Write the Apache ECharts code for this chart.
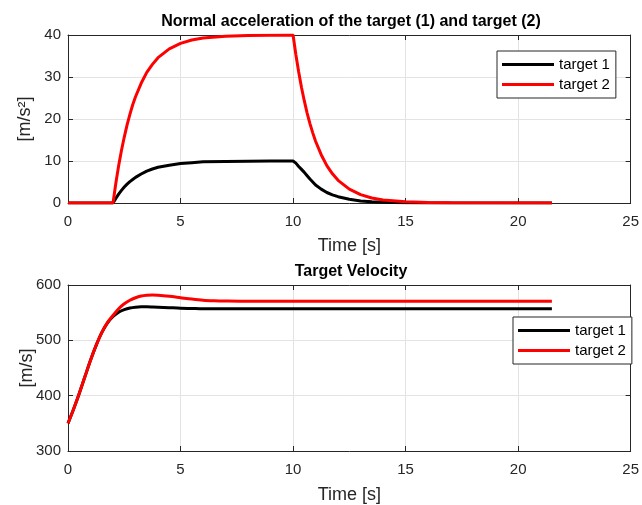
<!DOCTYPE html>
<html>
<head>
<meta charset="utf-8">
<title>Target acceleration and velocity</title>
<script src="https://cdn.jsdelivr.net/npm/echarts@6/dist/echarts.min.js"></script>
<style>
  html, body { margin: 0; padding: 0; background: #fff; }
  #chart { width: 642px; height: 505px; }
</style>
</head>
<body>
<div id="chart"></div>
<script>
// values
const seriesNames = ['target 1', 'target 2'];
const xTicks = [0, 5, 10, 15, 20, 25];

// normal acceleration [m/s^2]
const accTime = [0, 2, 2.125, 2.25, 2.375, 2.5, 2.625, 2.75, 2.875, 3, 3.25, 3.5, 3.75, 4, 4.5, 5, 5.5, 6, 7, 8, 9, 10,
  10.125, 10.25, 10.375, 10.5, 10.625, 10.75, 10.875, 11, 11.25, 11.5, 11.75, 12, 12.5, 13, 13.5, 14, 15, 16, 17, 21.5];
const accTarget1 = [0, 0, 1.1, 2.1, 3.0, 3.8, 4.5, 5.1, 5.6, 6.1, 6.9, 7.6, 8.1, 8.5, 9.0, 9.4, 9.6, 9.8, 9.9, 9.97, 10, 10,
  9.5, 8.7, 8.0, 7.3, 6.5, 5.7, 5.0, 4.3, 3.3, 2.5, 1.95, 1.5, 0.9, 0.5, 0.3, 0.15, 0.05, 0.02, 0, 0];
const accTarget2 = [0, 0, 4.7, 8.85, 12.5, 15.7, 18.6, 21.1, 23.4, 25.3, 28.5, 31.1, 33.0, 34.6, 36.7, 38.0, 38.8, 39.3, 39.7, 39.9, 39.96, 40,
  35.3, 31.2, 27.5, 24.3, 21.4, 18.9, 16.7, 14.7, 11.5, 8.9, 6.95, 5.4, 3.3, 2.0, 1.2, 0.7, 0.27, 0.1, 0.04, 0];

// target velocity [m/s]
const velTime = [0, 0.25, 0.5, 0.75, 1, 1.25, 1.5, 1.75, 2, 2.25, 2.5, 2.75, 3, 3.25, 3.5, 3.75, 4,
  4.5, 5, 5.5, 6, 6.5, 7, 8, 10, 15, 21.5];
const velTarget1 = [350, 376, 404, 434, 464, 491, 514, 531, 543, 551, 555.5, 558.5, 560, 560.5, 560.5, 560.3, 560,
  559, 558, 557.5, 557, 557, 557, 557, 557, 557, 557];
const velTarget2 = [350, 376, 404, 434, 464, 491, 514, 532, 545, 557, 566, 572.5, 577, 580, 581.5, 582, 581.5,
  579.5, 577, 574.5, 572.5, 571.5, 571, 570.5, 570.5, 570.5, 570.5];

const FONT = 'Liberation Sans, Arial, Helvetica, sans-serif';
const INK = '#262626';
const GRIDLINE = '#e3e3e3';

function pairs(xs, ys) {
  return xs.map((x, i) => [x, ys[i]]);
}

// main x axis with labels, grid lines and inward ticks
function xMain(gridIndex, nameGap) {
  return {
    type: 'value', gridIndex: gridIndex, position: 'bottom',
    min: xTicks[0], max: xTicks[xTicks.length - 1], interval: 5,
    name: 'Time [s]', nameLocation: 'middle', nameGap: nameGap,
    nameTextStyle: { fontFamily: FONT, fontSize: 18, color: INK },
    axisLine: { show: true, onZero: false, lineStyle: { color: INK, width: 1 } },
    axisTick: { show: true, inside: true, length: 5, lineStyle: { color: INK } },
    axisLabel: { fontFamily: FONT, fontSize: 15, color: INK, margin: 11 },
    splitLine: { show: true, lineStyle: { color: GRIDLINE, width: 1 } }
  };
}
// box edge on top
function xTop(gridIndex) {
  return {
    type: 'value', gridIndex: gridIndex, position: 'top',
    min: xTicks[0], max: xTicks[xTicks.length - 1], interval: 5,
    axisLine: { show: true, onZero: false, lineStyle: { color: INK, width: 1 } },
    axisTick: { show: true, inside: true, length: 5, lineStyle: { color: INK } },
    axisLabel: { show: false },
    splitLine: { show: false }
  };
}
function yMain(gridIndex, min, max, interval, name, nameGap) {
  return {
    type: 'value', gridIndex: gridIndex, position: 'left',
    min: min, max: max, interval: interval,
    name: name, nameLocation: 'middle', nameRotate: 90, nameGap: nameGap,
    nameMoveOverlap: false,
    nameTextStyle: { fontFamily: FONT, fontSize: 18, color: INK },
    axisLine: { show: true, onZero: false, lineStyle: { color: INK, width: 1 } },
    axisTick: { show: true, inside: true, length: 5, lineStyle: { color: INK } },
    axisLabel: { fontFamily: FONT, fontSize: 15, color: INK, margin: 7, padding: [4, 0, 0, 0] },
    splitLine: { show: true, lineStyle: { color: GRIDLINE, width: 1 } }
  };
}
function yRight(gridIndex, min, max, interval) {
  return {
    type: 'value', gridIndex: gridIndex, position: 'right',
    min: min, max: max, interval: interval,
    axisLine: { show: true, onZero: false, lineStyle: { color: INK, width: 1 } },
    axisTick: { show: true, inside: true, length: 5, lineStyle: { color: INK } },
    axisLabel: { show: false },
    splitLine: { show: false }
  };
}
function legendBox(left, top) {
  return {
    data: seriesNames, orient: 'vertical', left: left, top: top,
    icon: 'rect', itemWidth: 52, itemHeight: 3, itemGap: 5,
    padding: [6, 6, 6, 5],
    backgroundColor: '#fff', borderColor: INK, borderWidth: 1, borderRadius: 0,
    textStyle: { fontFamily: FONT, fontSize: 15, color: '#000' },
    selectedMode: false
  };
}
function line(name, color, xIdx, yIdx, data, smooth) {
  return {
    name: name, type: 'line', xAxisIndex: xIdx, yAxisIndex: yIdx,
    data: data, showSymbol: false, symbol: 'none', smooth: smooth,
    lineStyle: { color: color, width: 3 }, itemStyle: { color: color }
  };
}

const chart = echarts.init(document.getElementById('chart'), null, { renderer: 'canvas' });
chart.setOption({
  animation: false,
  backgroundColor: '#fff',
  title: [
    { text: 'Normal acceleration of the target (1) and target (2)', left: 351, top: 14, textAlign: 'center', padding: 0,
      textStyle: { fontFamily: FONT, fontSize: 16, fontWeight: 'bold', color: '#000' } },
    { text: 'Target Velocity', left: 351, top: 264, textAlign: 'center', padding: 0,
      textStyle: { fontFamily: FONT, fontSize: 16, fontWeight: 'bold', color: '#000' } }
  ],
  legend: [legendBox(497, 51), legendBox(513, 317)],
  grid: [
    { left: 68, top: 35, width: 565, height: 168, containLabel: false },
    { left: 68, top: 285, width: 565, height: 167, containLabel: false }
  ],
  xAxis: [xMain(0, 34), xTop(0), xMain(1, 35), xTop(1)],
  yAxis: [
    yMain(0, 0, 40, 10, '[m/s²]', 34), yRight(0, 0, 40, 10),
    yMain(1, 300, 600, 100, '[m/s]', 32), yRight(1, 300, 600, 100)
  ],
  series: [
    line(seriesNames[0], '#000000', 0, 0, pairs(accTime, accTarget1), false),
    line(seriesNames[1], '#ff0000', 0, 0, pairs(accTime, accTarget2), false),
    line(seriesNames[0], '#000000', 2, 2, pairs(velTime, velTarget1), 0.3),
    line(seriesNames[1], '#ff0000', 2, 2, pairs(velTime, velTarget2), 0.3)
  ]
});
</script>
</body>
</html>
